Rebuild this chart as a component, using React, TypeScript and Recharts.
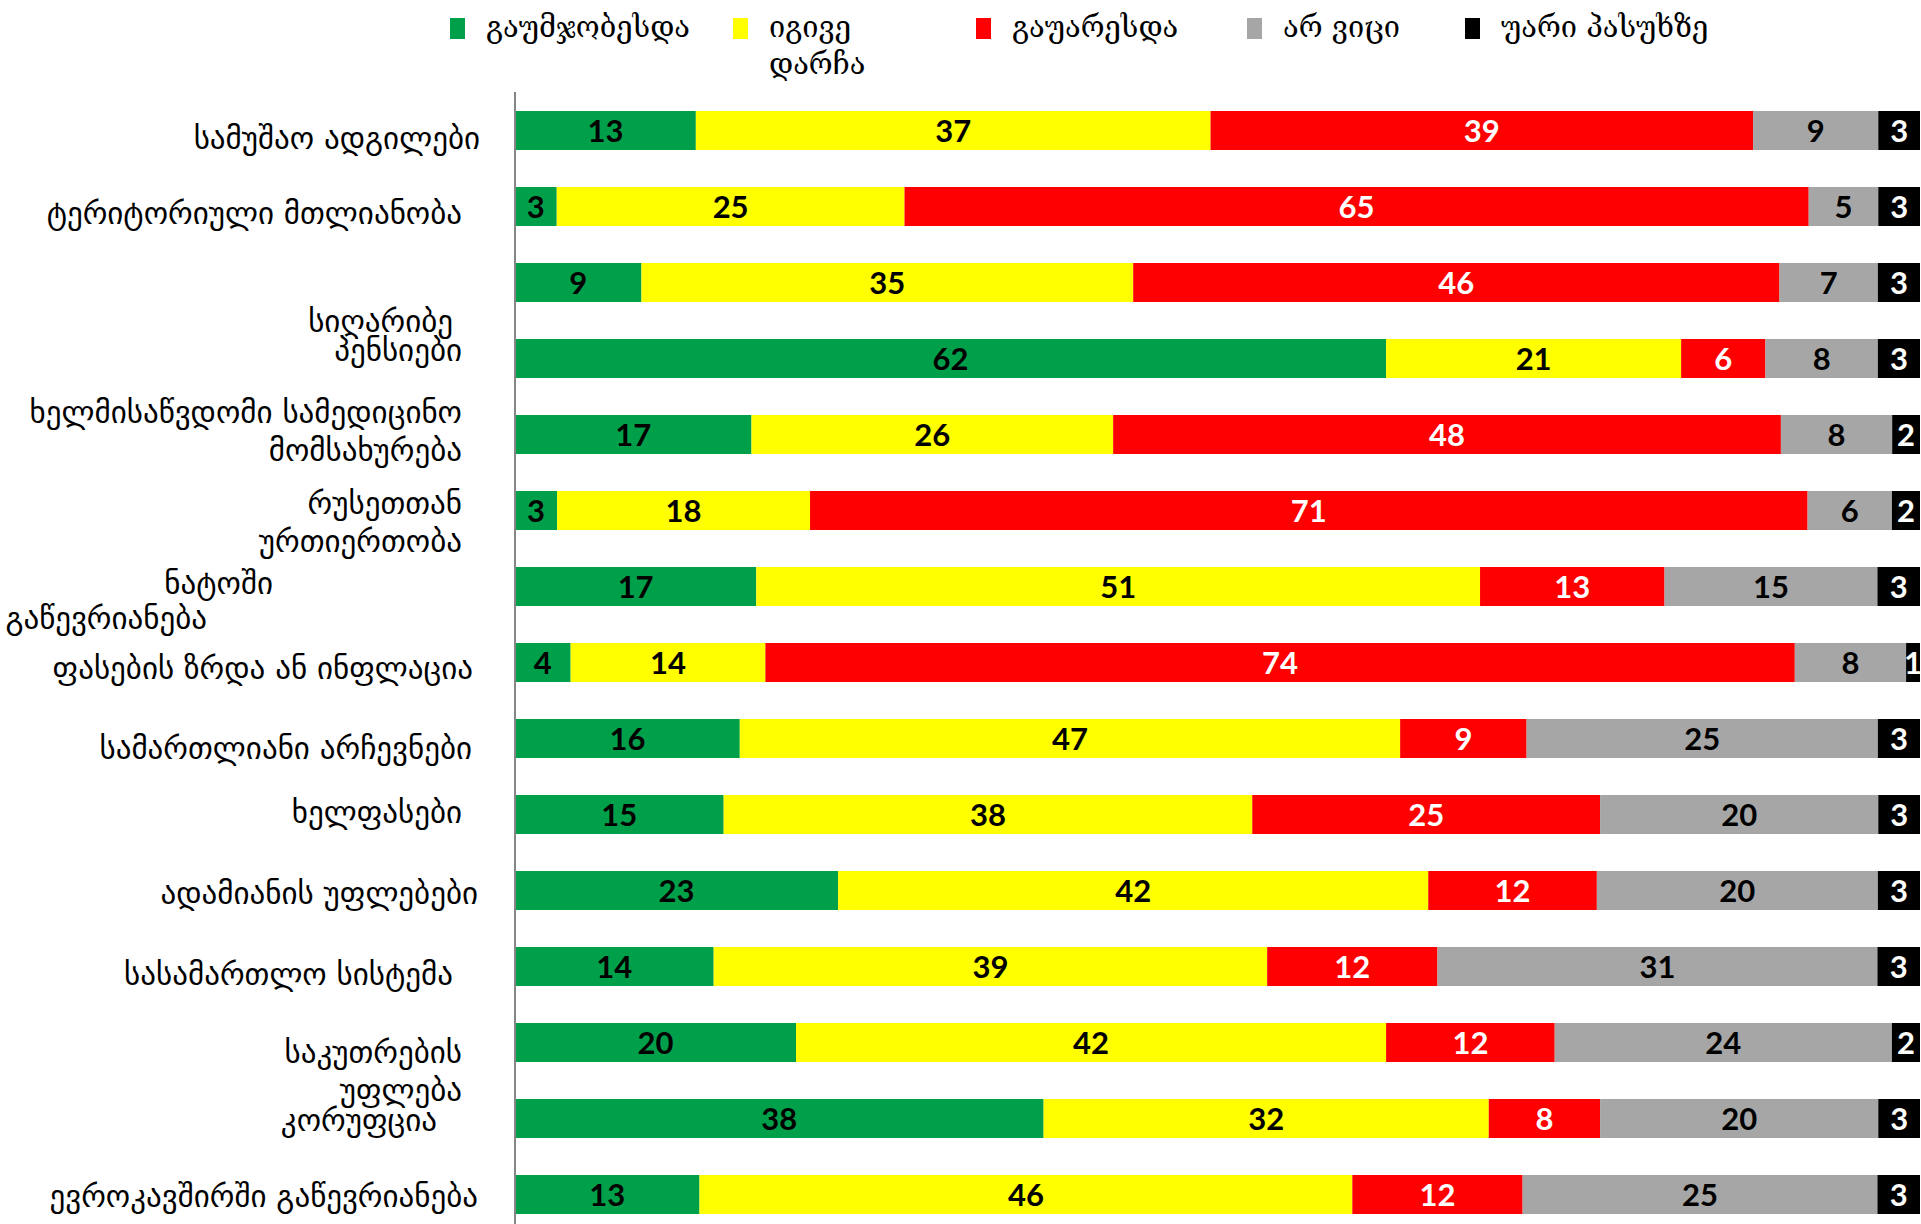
import { BarChart, Bar, XAxis, YAxis, LabelList } from 'recharts';

// categories (line breaks as in the original chart)
const CATEGORIES = [
  'სამუშაო ადგილები',
  'ტერიტორიული მთლიანობა',
  'სიღარიბე',
  'პენსიები',
  'ხელმისაწვდომი სამედიცინო\nმომსახურება',
  'რუსეთთან\nურთიერთობა',
  'ნატოში\nგაწევრიანება',
  'ფასების ზრდა ან ინფლაცია',
  'სამართლიანი არჩევნები',
  'ხელფასები',
  'ადამიანის უფლებები',
  'სასამართლო სისტემა',
  'საკუთრების\nუფლება',
  'კორუფცია',
  'ევროკავშირში გაწევრიანება',
];

const IMPROVED = [13, 3, 9, 62, 17, 3, 17, 4, 16, 15, 23, 14, 20, 38, 13];
const SAME = [37, 25, 35, 21, 26, 18, 51, 14, 47, 38, 42, 39, 42, 32, 46];
const WORSE = [39, 65, 46, 6, 48, 71, 13, 74, 9, 25, 12, 12, 12, 8, 12];
const DONT_KNOW = [9, 5, 7, 8, 8, 6, 15, 8, 25, 20, 20, 31, 24, 20, 25];
const REFUSED = [3, 3, 3, 3, 2, 2, 3, 1, 3, 3, 3, 3, 2, 3, 3];

const SERIES = [
  { key: 'improved', name: 'გაუმჯობესდა', color: '#00A04B', text: '#000000', values: IMPROVED },
  { key: 'same', name: 'იგივე დარჩა', color: '#FFFF00', text: '#000000', values: SAME },
  { key: 'worse', name: 'გაუარესდა', color: '#FF0000', text: '#FFFFFF', values: WORSE },
  { key: 'dontKnow', name: 'არ ვიცი', color: '#A6A6A6', text: '#000000', values: DONT_KNOW },
  { key: 'refused', name: 'უარი პასუხზე', color: '#000000', text: '#FFFFFF', values: REFUSED },
];

const data = CATEGORIES.map((name, i) => {
  const row: Record<string, string | number> = { name };
  SERIES.forEach((s) => {
    row[s.key] = s.values[i];
  });
  return row;
});

// per-line [right edge x, vertical shift] for the category labels
const TICK_LAYOUT: number[][][] = [
  [[480, 8]],
  [[462, 7]],
  [[453, 39]],
  [[462, -8]],
  [[462, -22], [462, 16]],
  [[462, -7], [462, 31]],
  [[273, -3], [207, 32]],
  [[473, 6]],
  [[472, 10]],
  [[462, -2]],
  [[478, 3]],
  [[453, 8]],
  [[462, 10], [462, 48]],
  [[437, 2]],
  [[478, 2]],
];

const LEGEND_X = [450, 733, 976, 1247, 1465];

function CategoryTick(props: any) {
  const { y, payload, index } = props;
  const lines = String(payload.value).split('\n');
  const layout = TICK_LAYOUT[index] || [];
  return (
    <g>
      {lines.map((line, i) => (
        <text
          key={i}
          x={layout[i] ? layout[i][0] : 470}
          y={y + (layout[i] ? layout[i][1] : 0)}
          textAnchor="end"
          dominantBaseline="central"
          fontFamily="DejaVu Sans"
          fontSize={31}
          fill="#000"
        >
          {line}
        </text>
      ))}
    </g>
  );
}

export default function App() {
  return (
    <div
      style={{
        position: 'absolute',
        left: 0,
        top: 0,
        width: 1921,
        height: 1224,
        overflow: 'hidden',
        background: '#fff',
      }}
    >
      {SERIES.map((s, i) => (
        <div key={s.key} style={{ position: 'absolute', left: LEGEND_X[i], top: 18 }}>
          <div style={{ position: 'absolute', left: 0, top: 0, width: 15, height: 21, background: s.color }} />
          <div
            style={{
              position: 'absolute',
              left: 36,
              top: -9,
              width: s.key === 'same' ? 120 : 300,
              fontFamily: 'DejaVu Serif, DejaVu Sans',
              fontSize: 29,
              lineHeight: '37px',
              color: '#000',
            }}
          >
            {s.name}
          </div>
        </div>
      ))}
      <BarChart
        width={1921}
        height={1232}
        data={data}
        layout="vertical"
        stackOffset="expand"
        barSize={39}
        margin={{ top: 92, right: 1, bottom: 0, left: 0 }}
        style={{ position: 'absolute', left: 0, top: 0 }}
      >
        <XAxis type="number" hide domain={[0, 1]} />
        <YAxis
          type="category"
          dataKey="name"
          width={515}
          interval={0}
          tickLine={false}
          axisLine={{ stroke: '#868686', strokeWidth: 2 }}
          tick={<CategoryTick />}
        />
        {SERIES.map((s) => (
          <Bar key={s.key} dataKey={s.key} name={s.name} stackId="a" fill={s.color} isAnimationActive={false}>
            <LabelList
              dataKey={s.key}
              position="center"
              fill={s.text}
              fontFamily="Lato"
              fontWeight={700}
              fontSize={31}
            />
          </Bar>
        ))}
      </BarChart>
    </div>
  );
}
